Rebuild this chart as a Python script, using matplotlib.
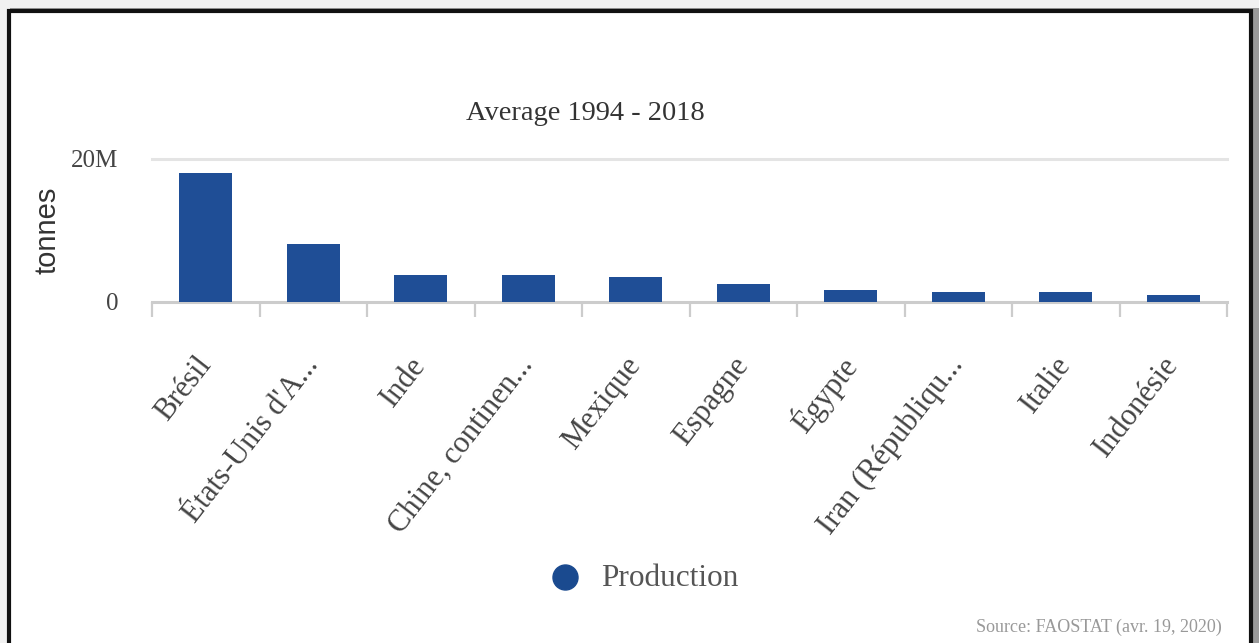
import numpy as np
import matplotlib.pyplot as plt
from matplotlib.patches import Rectangle
from matplotlib.lines import Line2D

# -----------------------------
# Data
# -----------------------------

countries = [
    "Brésil",
    "États-Unis d'A...",
    "Inde",
    "Chine, continen...",
    "Mexique",
    "Espagne",
    "Égypte",
    "Iran (Républiqu...",
    "Italie",
    "Indonésie",
]

production = [18.1e6, 8.1e6, 3.8e6, 3.8e6, 3.45e6, 2.45e6, 1.65e6, 1.38e6, 1.38e6, 1.0e6]

y_ticks = [0, 20e6]
y_tick_labels = ["0", "20M"]

bar_color = "#1f4e96"
serif = ["Liberation Serif", "DejaVu Serif"]

# -----------------------------
# Figure + frame
# -----------------------------

fig = plt.figure(figsize=(12.59, 6.43), dpi=100)
fig.patch.set_facecolor("#f1f1f1")

W, H = 1259, 643

# drop shadow on the right, then the white card with black border
fig.patches.append(Rectangle((10 / W, -0.05), 1249 / W, 1 - 8 / H + 0.05,
                             transform=fig.transFigure, facecolor="#9a9a9a",
                             edgecolor="none", zorder=0))
fig.patches.append(Rectangle((9 / W, -0.05), 1242 / W, 1 - 11 / H + 0.05,
                             transform=fig.transFigure, facecolor="white",
                             edgecolor="#111111", linewidth=3, zorder=1))

# -----------------------------
# Axes
# -----------------------------

ax = fig.add_axes([152 / W, 1 - 302 / H, (1227 - 152) / W, (302 - 159) / H])
ax.set_zorder(5)
ax.set_facecolor("none")

x = np.arange(len(countries))
ax.bar(x, production, width=0.49, color=bar_color, zorder=3)

ax.set_xlim(-0.5, len(countries) - 0.5)
ax.set_ylim(0, 20e6)

for side in ["top", "right", "left"]:
    ax.spines[side].set_visible(False)
ax.spines["bottom"].set_color("#cccccc")
ax.spines["bottom"].set_linewidth(2.2)

ax.axhline(20e6, color="#e4e4e4", linewidth=2.2, zorder=1, clip_on=False)

ax.set_yticks(y_ticks)
ax.set_yticklabels(y_tick_labels, fontsize=18, color="#444444", family=serif)
ax.tick_params(axis="y", length=0, pad=24)

ax.set_xticks(x)
ax.set_xticklabels(countries, rotation=52, ha="right", va="center",
                   rotation_mode="anchor", fontsize=22, color="#444444",
                   family=serif)
ax.tick_params(axis="x", which="major", length=0, pad=42)

ax.set_xticks(np.arange(-0.5, len(countries), 1.0), minor=True)
ax.tick_params(axis="x", which="minor", length=11, width=1.6, color="#cccccc")

ax.set_ylabel("tonnes", fontsize=21, color="#333333", family="Liberation Sans")
ax.yaxis.set_label_coords((61 - 152) / (1227 - 152), 0.5)

# -----------------------------
# Title, legend, source
# -----------------------------

fig.text(585 / W, 1 - 114 / H, "Average 1994 - 2018", ha="center", va="center",
         fontsize=20.5, color="#333333", family=serif)

fig.add_artist(Line2D([565 / W], [1 - 577 / H], marker="o", markersize=18,
                      color="#1a4a8f", transform=fig.transFigure))
fig.text(601 / W, 1 - 578 / H, "Production", ha="left", va="center",
         fontsize=22.5, color="#555555", family=serif)

fig.text(1222 / W, 1 - 627 / H, "Source: FAOSTAT (avr. 19, 2020)", ha="right",
         va="center", fontsize=13, color="#999999", family=serif)

fig.savefig("out.png", dpi=100, facecolor=fig.get_facecolor())
